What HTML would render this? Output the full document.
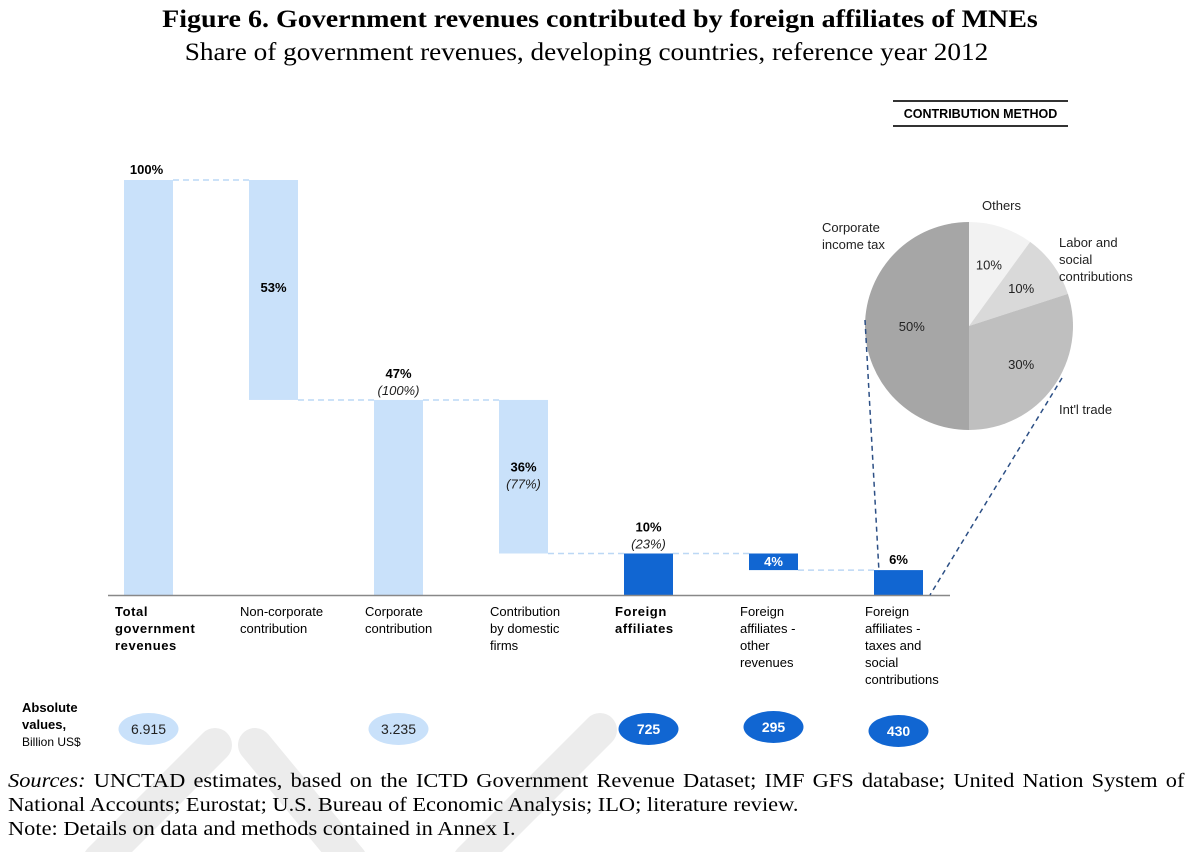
<!DOCTYPE html>
<html><head><meta charset="utf-8"><style>
body{margin:0;background:#fff;width:1200px;height:852px;overflow:hidden;position:relative;font-family:"Liberation Sans",sans-serif}
.t{position:absolute;white-space:nowrap}
.serif{font-family:"Liberation Serif",serif}
</style></head><body>
<svg width="1200" height="852" style="position:absolute;left:0;top:0">
<g stroke="#ececec" stroke-width="34" fill="none" stroke-linecap="round">
<line x1="100" y1="860" x2="215" y2="745"/>
<line x1="255" y1="745" x2="350" y2="860"/>
<line x1="470" y1="860" x2="600" y2="730"/>
</g></svg>
<div class="t serif" style="left:0;width:1200px;text-align:center;top:6px;font-size:25px;font-weight:bold;transform:scaleX(1.12);transform-origin:600px 0">Figure 6. Government revenues contributed by foreign affiliates of MNEs</div>
<div class="t serif" style="left:0;width:1173px;text-align:center;top:39px;font-size:25px;transform:scaleX(1.09);transform-origin:586px 0">Share of government revenues, developing countries, reference year 2012</div>
<div class="t" style="left:893px;top:100px;width:175px;border-top:2px solid #333;border-bottom:2px solid #333;padding:5px 0 4px;font-size:12.5px;font-weight:bold;text-align:center">CONTRIBUTION METHOD</div>
<svg id="chart" width="1200" height="852" style="position:absolute;left:0;top:0"></svg>
<div class="t" style="left:22px;top:699px;font-size:13px;line-height:17px"><b>Absolute<br>values,</b><br><span style="font-size:12px">Billion US$</span></div>
<div class="t serif" style="left:8px;top:769px;font-size:20px;line-height:24px;transform:scaleX(1.12);transform-origin:0 0"><span style="word-spacing:2.3px"><i>Sources:</i> UNCTAD estimates, based on the ICTD Government Revenue Dataset; IMF GFS database; United Nation System of</span><br>National Accounts; Eurostat; U.S. Bureau of Economic Analysis; ILO; literature review.<br>Note: Details on data and methods contained in Annex I.</div>
<script>
const categories=["Total government revenues","Non-corporate contribution","Corporate contribution","Contribution by domestic firms","Foreign affiliates","Foreign affiliates - other revenues","Foreign affiliates - taxes and social contributions"];
const barStart=[0,47,0,10,0,6,0];
const barEnd=[100,100,47,47,10,10,6];
const mainLabels=["100%","53%","47%","36%","10%","4%","6%"];
const subLabels=["","","(100%)","(77%)","(23%)","",""];
const absValues=["6.915","","3.235","","725","295","430"];
const pieCats=["Others","Labor and social contributions","Int'l trade","Corporate income tax"];
const pieVals=[10,10,30,50];
const pieColors=["#f2f2f2","#d9d9d9","#bfbfbf","#a6a6a6"];
const NS="http://www.w3.org/2000/svg";
const svg=document.getElementById('chart');
const y0=595,yScale=4.15;
const y=v=>y0-v*yScale;
const xL=i=>124+i*125;
const bw=49;
function mk(tag,attrs,parent){const e=document.createElementNS(NS,tag);for(const k in attrs)e.setAttribute(k,attrs[k]);(parent||svg).appendChild(e);return e;}
const dark=[4,5,6];
for(let i=0;i<categories.length-1;i++){
  const lvl=(i%2===0)?barEnd[i]:barStart[i];
  const l=mk('line',{x1:xL(i)+bw,x2:xL(i+1),y1:y(lvl),y2:y(lvl),stroke:'#bcd8f5','stroke-width':1.5,'stroke-dasharray':'6,4'});
  
  
}
categories.forEach((c,i)=>{
  const r=mk('rect',{x:xL(i),y:y(barEnd[i]),width:bw,height:(barEnd[i]-barStart[i])*yScale,fill:dark.includes(i)?'#1166d2':'#c9e1fa'});
  
  
  const cx=xL(i)+bw/2+(i===0?-2:0);
  let ly;
  if(i===1){ly=(y(barEnd[i])+y(barStart[i]))/2+2;}
  else if(i===3){ly=(y(barEnd[i])+y(barStart[i]))/2-5;}
  else if(i===5){ly=(y(barEnd[i])+y(barStart[i]))/2+4;}
  else ly=y(barEnd[i])-(subLabels[i]?22:6);
  const t=mk('text',{x:cx,y:ly,'text-anchor':'middle','font-size':13,'font-weight':'bold',fill:i===5?'#fff':'#000'});
  t.textContent=mainLabels[i];
  
  
  if(subLabels[i]){
    const s=mk('text',{x:cx,y:ly+17,'text-anchor':'middle','font-size':13,'font-style':'italic',fill:'#222'});
    s.textContent=subLabels[i];
    
    
  }
  const words={0:["Total","government","revenues"],1:["Non-corporate","contribution"],2:["Corporate","contribution"],3:["Contribution","by domestic","firms"],4:["Foreign","affiliates"],5:["Foreign","affiliates -","other","revenues"],6:["Foreign","affiliates -","taxes and","social","contributions"]}[i];
  const bold=(i===0||i===4);
  const ct=mk('text',{x:xL(i)-9,y:616,'font-size':13,'font-weight':bold?'bold':'normal','letter-spacing':bold?'0.6':'0'});
  
  
  words.forEach((w,k)=>{const ts=mk('tspan',{x:xL(i)-9,dy:k?17:0},ct);ts.textContent=w;});
  if(absValues[i]){
    const ey=i===5?727:(i===6?731:729);
    const e=mk('ellipse',{cx:xL(i)+bw/2,cy:ey,rx:30,ry:16,fill:dark.includes(i)?'#1166d2':'#c9e1fa'});
    
    
    const et=mk('text',{x:xL(i)+bw/2,y:ey+5,'text-anchor':'middle','font-size':14,'font-weight':dark.includes(i)?'bold':'normal',fill:dark.includes(i)?'#fff':'#222'});
    et.textContent=absValues[i];
    
    
  }
});
const ax=mk('line',{x1:108,x2:950,y1:y0+0.5,y2:y0+0.5,stroke:'#888','stroke-width':1.5});


const pcx=969,pcy=326,pr=104;
let acc=0;const tot=pieVals.reduce((a,b)=>a+b,0);
pieVals.forEach((v,i)=>{
  const a0=acc/tot*2*Math.PI,a1=(acc+v)/tot*2*Math.PI;acc+=v;
  const p=(a)=>[pcx+pr*Math.sin(a),pcy-pr*Math.cos(a)];
  const [x0,y0_]=p(a0),[x1,y1]=p(a1);
  const path=mk('path',{d:`M${pcx},${pcy}L${x0},${y0_}A${pr},${pr} 0 ${a1-a0>Math.PI?1:0} 1 ${x1},${y1}Z`,fill:pieColors[i]});
  
  
  const am=(a0+a1)/2,rr=i===3?0.55:0.62;
  const t=mk('text',{x:pcx+pr*rr*Math.sin(am),y:pcy-pr*rr*Math.cos(am)+5,'text-anchor':'middle','font-size':13,fill:'#222'});
  t.textContent=v+'%';
  
  
});
const pl=[[982,210,["Others"]],[1059,247,["Labor and","social","contributions"]],[1059,414,["Int'l trade"]],[822,232,["Corporate","income tax"]]];
pl.forEach(([x,yy,ls])=>{const t=mk('text',{x:x,y:yy,'font-size':13,fill:'#222'});
  
  
  ls.forEach((w,k)=>{const ts=mk('tspan',{x:x,dy:k?17:0},t);ts.textContent=w;});});
const d1=mk('line',{x1:865,y1:320,x2:879,y2:572,stroke:'#2c4f85','stroke-width':1.5,'stroke-dasharray':'5,4'});


const d2=mk('line',{x1:1062,y1:378,x2:930,y2:595,stroke:'#2c4f85','stroke-width':1.5,'stroke-dasharray':'5,4'});


</script>
</body></html>
